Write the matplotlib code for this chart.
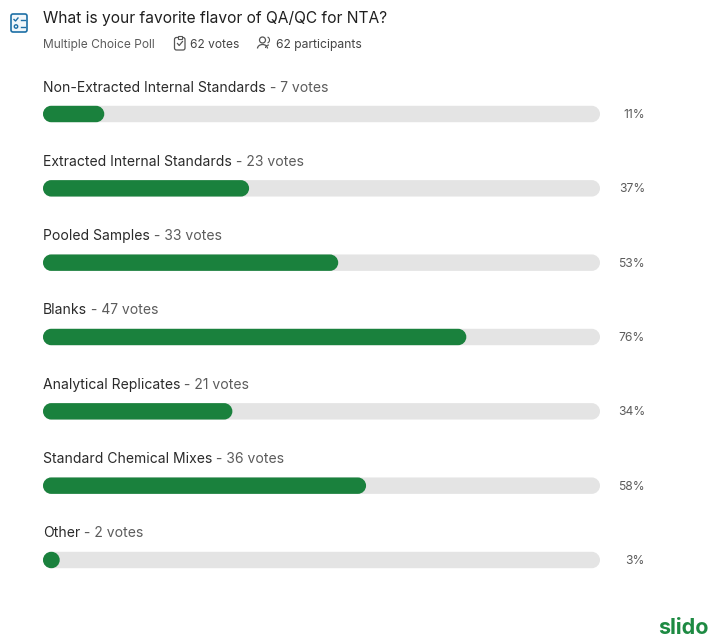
import matplotlib
matplotlib.use('Agg')
import matplotlib.pyplot as plt
from matplotlib.patches import FancyBboxPatch, Circle, Arc, Rectangle, PathPatch
from matplotlib.path import Path

plt.rcParams['font.family'] = ['Inter', 'DejaVu Sans']

# poll results
options = ['Non-Extracted Internal Standards', 'Extracted Internal Standards', 'Pooled Samples',
           'Blanks', 'Analytical Replicates', 'Standard Chemical Mixes', 'Other']
votes = [7, 23, 33, 47, 21, 36, 2]
percents = [11, 37, 53, 76, 34, 58, 3]

title = 'What is your favorite flavor of QA/QC for NTA?'
poll_type = 'Multiple Choice Poll'
total_votes = '62 votes'
participants = '62 participants'

GREEN = '#1a813d'
TRACK = '#e4e4e4'
DARK = '#2a2a2a'
GREY = '#5c5c5c'

W, H = 708, 637
fig = plt.figure(figsize=(W / 100, H / 100), dpi=100, facecolor='white')

# overlay in pixel coords for the header, icons and logo
top = fig.add_axes([0, 0, 1, 1])
top.set_xlim(0, W)
top.set_ylim(H, 0)
top.axis('off')

# bars axes: x is percent, y is row number
row_px = 74.33
y_top = 114 - row_px / 2
y_bot = 560 + row_px / 2
ax = fig.add_axes([43 / W, 1 - y_bot / H, 557 / W, (y_bot - y_top) / H])
ax.set_xlim(0, 100)
ax.set_ylim(6.5, -0.5)
ax.axis('off')
ax.patch.set_alpha(0)

px_x = 100 / 557
px_y = 1 / row_px
bar_h = 16.4 * px_y
KAPPA = 0.5523


def pill(width, row, color, zorder):
    # bar with fully round ends, built from bezier quarter circles
    rx = min(8.2 * px_x, width / 2)
    ry = bar_h / 2
    y0, y1 = row - ry, row + ry
    kx, ky = rx * (1 - KAPPA), ry * (1 - KAPPA)
    verts = [(rx, y0), (width - rx, y0),
             (width - kx, y0), (width, y0 + ky), (width, row),
             (width, y1 - ky), (width - kx, y1), (width - rx, y1),
             (rx, y1),
             (kx, y1), (0, y1 - ky), (0, row),
             (0, y0 + ky), (kx, y0), (rx, y0),
             (rx, y0)]
    codes = [Path.MOVETO, Path.LINETO] + [Path.CURVE4] * 6 + [Path.LINETO] + [Path.CURVE4] * 6 + [Path.CLOSEPOLY]
    ax.add_patch(PathPatch(Path(verts, codes), fc=color, ec='none', zorder=zorder))


for i, (name, v, p) in enumerate(zip(options, votes, percents)):
    pill(100, i, TRACK, 1)
    pill(p, i, GREEN, 2)
    lab = ax.annotate(name, xy=(0, i), xytext=(0, 26.5), textcoords='offset pixels',
                      fontsize=10.05, color=DARK, va='center', ha='left')
    ax.annotate(f' - {v} votes', xy=(1, 0.5), xycoords=lab, fontsize=10.05, color=GREY,
                va='center', ha='left')
    ax.annotate(f'{p}%', xy=(100, i), xytext=(45, -1), textcoords='offset pixels',
                fontsize=8.7, color=GREY, va='center', ha='right')

# header text
top.text(43, 18.5, title, fontsize=11.2, color='#1f1f1f', va='center', ha='left')
top.text(43, 45, poll_type, fontsize=8.6, color=GREY, va='center', ha='left')
top.text(190, 45, total_votes, fontsize=8.6, color='#444444', va='center', ha='left')
top.text(276, 45, participants, fontsize=8.75, color='#444444', va='center', ha='left')

# quiz icon
BLUE = '#1d6fa5'
top.add_patch(FancyBboxPatch((11, 14), 16, 18, boxstyle='round,pad=0,rounding_size=2',
                             fc='#f1f7fb', ec=BLUE, lw=1.2))
top.plot([14, 15.5, 18], [19.5, 21, 18], color=BLUE, lw=1.0)
top.plot([21, 25], [19.5, 19.5], color=BLUE, lw=1.0)
top.add_patch(Circle((16, 26.5), 1.7, fc='none', ec=BLUE, lw=1.0))
top.plot([21, 25], [26.5, 26.5], color=BLUE, lw=1.0)

# clipboard icon
ICON = '#555555'
top.add_patch(FancyBboxPatch((174.5, 37.5), 10.5, 12.5, boxstyle='round,pad=0,rounding_size=2',
                             fc='none', ec=ICON, lw=0.9))
top.add_patch(Rectangle((177.5, 36), 4.5, 2.5, fc='white', ec=ICON, lw=0.8))
top.plot([177.5, 179.2, 182.5], [43.5, 45.5, 41.5], color=ICON, lw=0.9)

# people icon
top.add_patch(Circle((262.5, 40), 3, fc='none', ec=ICON, lw=0.9))
top.add_patch(Arc((262.5, 48.5), 10, 8, theta1=180, theta2=360, ec=ICON, lw=0.9))
top.add_patch(Arc((267, 40), 5, 6, theta1=-80, theta2=80, ec=ICON, lw=0.8))
top.add_patch(Arc((269, 48), 6, 7, theta1=-90, theta2=0, ec=ICON, lw=0.8, angle=-90))

# logo, runs off the right edge
top.text(658, 628, 'slido', fontsize=15.5, fontweight='bold', color='#1d8a42', va='center', ha='left',
         clip_on=True)

fig.savefig('out.png', dpi=100, facecolor='white')
